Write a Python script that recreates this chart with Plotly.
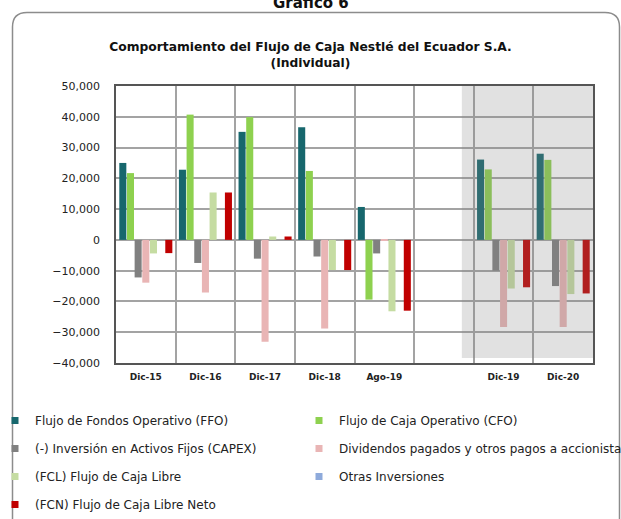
import plotly.graph_objects as go

categories = ["Dic-15", "Dic-16", "Dic-17", "Dic-18", "Ago-19", " ", "Dic-19", "Dic-20"]
ffo = [25000, 22800, 35100, 36600, 10700, None, 26100, 28000]
cfo = [21700, 40700, 39900, 22400, -19400, None, 22900, 26000]
capex = [-12200, -7500, -6100, -5400, -4400, None, -10000, -15000]
dividendos = [-13900, -17100, -33100, -28800, -300, None, -28300, -28300]
fcl = [-4400, 15400, 1100, -9800, -23200, None, -15800, -17600]
otras = [0, 0, 0, 0, 0, None, 0, 0]
fcn = [-4300, 15400, 1100, -9800, -23000, None, -15400, -17400]

series_names = [
    "Flujo de Fondos Operativo (FFO)",
    "Flujo de Caja Operativo (CFO)",
    "(-) Inversión en Activos Fijos (CAPEX)",
    "Dividendos pagados y otros pagos a accionista",
    "(FCL) Flujo de Caja Libre",
    "Otras Inversiones",
    "(FCN) Flujo de Caja Libre Neto",
]
series_values = [ffo, cfo, capex, dividendos, fcl, otras, fcn]
colors = ["#17676d", "#8ed14f", "#808080", "#e9b5b5", "#c5dca2", "#8eaadb", "#c00000"]
legend_ids = ["legend", "legend2", "legend", "legend2", "legend", "legend2", "legend"]

W, H = 621, 519
L, R, T, B = 116, 28, 86, 156
pw, ph = W - L - R, H - T - B


def px(x):
    return (x - L) / pw


def py(y):
    return (H - B - y) / ph


FONT = "DejaVu Sans"

fig = go.Figure()
for name, vals, col in zip(series_names, series_values, colors):
    fig.add_trace(go.Bar(x=categories, y=vals, name=name, marker=dict(color=col, line=dict(width=0)),
                         showlegend=False))

# legend proxies
for i, (name, col, lg) in enumerate(zip(series_names, colors, legend_ids)):
    fig.add_trace(go.Scatter(x=[None], y=[None], mode="markers", name=name,
                             marker=dict(symbol="square", size=7, color=col),
                             legend=lg, legendgroup=f"g{i}", showlegend=True))

shapes = [
    dict(type="rect", xref="x", yref="y", x0=5.3, x1=7.5, y0=-38400, y1=50000,
         fillcolor="rgba(128,128,128,0.24)", line=dict(width=0), layer="above"),
    dict(type="path", xref="paper", yref="paper",
         path=(f"M {px(12.5)},{py(530)} L {px(12.5)},{py(27)} Q {px(12.5)},{py(12.5)} {px(27)},{py(12.5)} "
               f"L {px(605)},{py(12.5)} Q {px(619.5)},{py(12.5)} {px(619.5)},{py(27)} L {px(619.5)},{py(530)}"),
         line=dict(color="#8c8c8c", width=1.5), layer="below"),
]

legend_common = dict(xanchor="left", yanchor="top", orientation="v", tracegroupgap=9,
                     indentation=-12, bgcolor="rgba(0,0,0,0)",
                     font=dict(family=FONT, size=12, color="#222"))

fig.update_layout(
    width=W, height=H,
    margin=dict(l=L, r=R, t=T, b=B, autoexpand=False),
    paper_bgcolor="white", plot_bgcolor="white",
    barmode="group", bargap=0.1, bargroupgap=0.08,
    font=dict(family=FONT, size=11, color="#222"),
    title=dict(text="<b>Comportamiento del Flujo de Caja Nestlé del Ecuador S.A.<br>(Individual)</b>",
               x=0.5, xref="container", xanchor="center",
               y=1 - 51 / H, yref="container", yanchor="top",
               font=dict(family=FONT, size=12.3, color="#111")),
    shapes=shapes,
    annotations=[dict(text="<b>Gráfico 6</b>", xref="paper", yref="paper", x=px(311), y=py(3),
                      xanchor="center", yanchor="middle", showarrow=False,
                      font=dict(family=FONT, size=15, color="#111"))],
    legend=dict(x=px(7), y=py(406), **legend_common),
    legend2=dict(x=px(311), y=py(406), **legend_common),
)

fig.update_xaxes(
    type="category", categoryorder="array", categoryarray=categories,
    tickson="boundaries", showgrid=True, gridcolor="#a3a3a3", gridwidth=1.5,
    showline=True, linecolor="#555", linewidth=1.5, mirror=True,
    ticks="", tickfont=dict(family=FONT, size=9, color="#222", weight="bold"),
    ticklabelstandoff=4,
)
fig.update_yaxes(
    range=[-40000, 50000], dtick=10000, tickformat=",",
    showgrid=True, gridcolor="#a3a3a3", gridwidth=1.5,
    zeroline=True, zerolinecolor="#a3a3a3", zerolinewidth=1.5,
    showline=True, linecolor="#555", linewidth=1.5, mirror=True,
    ticks="", tickfont=dict(family=FONT, size=11, color="#222"),
    ticklabelstandoff=12,
)

fig.write_html("out.html", config={"displayModeBar": False},
               post_script="document.body.style.margin='0px';")
